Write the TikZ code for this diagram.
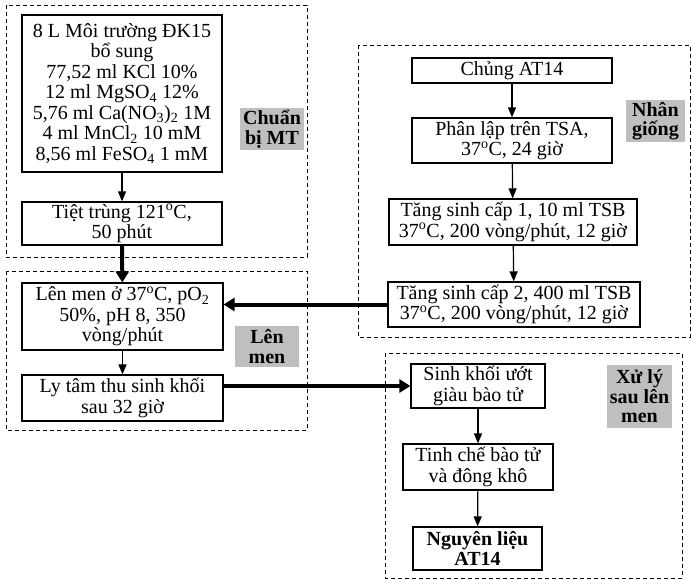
\documentclass[tikz,border=0pt]{standalone}
\usepackage{fontspec}
\setmainfont{Liberation Serif}
\usetikzlibrary{arrows.meta}
\begin{document}
\begin{tikzpicture}[x=1pt,y=-1pt,
    box/.style={draw,line width=1.2pt,align=center,inner xsep=2pt,inner ysep=1pt,font=\fontsize{20}{20.5}\selectfont},
    tag/.style={fill=black!25,align=center,inner sep=2pt,font=\fontsize{20}{19.5}\selectfont\bfseries},
    group/.style={dash pattern=on 4pt off 3pt,line width=0.9pt},
    arr/.style={line width=1.2pt,-{Triangle[length=10pt,width=8pt]}},
    bigarr/.style={line width=4pt,-{Triangle[length=11pt,width=13pt]}}]
    \useasboundingbox (0,0) rectangle (694,579);
    \draw[group] (6,5) rectangle (307,257);
    \draw[group] (358,45) rectangle (690,337);
    \draw[group] (6,271) rectangle (307,430);
    \draw[group] (385,353) rectangle (682,578);
    \node[box,minimum width=200pt,minimum height=157pt] (b1) at (122,93.5)
        {8 L Môi trường ĐK15\\bổ sung\\77,52 ml KCl 10\%\\12 ml MgSO\textsubscript{4} 12\%\\5,76 ml Ca(NO\textsubscript{3})\textsubscript{2} 1M\\4 ml MnCl\textsubscript{2} 10 mM\\8,56 ml FeSO\textsubscript{4} 1 mM};
    \node[box,minimum width=200pt,minimum height=43pt] (b2) at (122,223.5) {Tiệt trùng 121\textsuperscript{o}C,\\50 phút};
    \node[tag,minimum width=64pt,minimum height=38pt] (tMT) at (272,129) {Chuẩn\\bị MT};
    \node[box,minimum width=200pt,minimum height=25pt] (c1) at (512,70.5) {Chủng AT14};
    \node[box,minimum width=200pt,minimum height=45pt] (c2) at (512,140.5) {Phân lập trên TSA,\\37\textsuperscript{o}C, 24 giờ};
    \node[box,minimum width=248pt,minimum height=46pt] (c3) at (513,222) {Tăng sinh cấp 1, 10 ml TSB\\37\textsuperscript{o}C, 200 vòng/phút, 12 giờ};
    \node[box,minimum width=252pt,minimum height=45pt] (c4) at (514,304.5) {Tăng sinh cấp 2, 400 ml TSB\\37\textsuperscript{o}C, 200 vòng/phút, 12 giờ};
    \node[tag,minimum width=59pt,minimum height=38pt] (tNG) at (655.5,121) {Nhân\\giống};
    \node[box,minimum width=201pt,minimum height=67pt] (d1) at (122.5,316.5) {Lên men ở 37\textsuperscript{o}C, pO\textsubscript{2}\\50\%, pH 8, 350\\vòng/phút};
    \node[box,minimum width=201pt,minimum height=46pt] (d2) at (122.5,398) {Ly tâm thu sinh khối\\sau 32 giờ};
    \node[tag,minimum width=64pt,minimum height=41pt] (tLM) at (267,346.5) {Lên\\men};
    \node[box,minimum width=134pt,minimum height=44pt] (e1) at (478,386) {Sinh khối ướt\\giàu bào tử};
    \node[box,minimum width=150pt,minimum height=46pt] (e2) at (478,467) {Tinh chế bào tử\\và đông khô};
    \node[box,minimum width=129pt,minimum height=43pt,font=\fontsize{20}{20.5}\selectfont\bfseries] (e3) at (477.5,548.5) {Nguyên liệu\\AT14};
    \node[tag,minimum width=65pt,minimum height=63pt] (tXL) at (639.5,396.5) {Xử lý\\sau lên\\men};
    \draw[arr] (b1) -- (b2);
    \draw[arr] (c1) -- (c2);
    \draw[arr] (c2) -- (c3);
    \draw[arr] (c3) -- (c4);
    \draw[arr] (d1) -- (d2);
    \draw[arr] (e1) -- (e2);
    \draw[arr] (e2) -- (e3);
    \draw[bigarr] (b2) -- (d1);
    \draw[bigarr] (c4.west) -- (d1.east |- c4.west);
    \draw[bigarr] (d2.east |- e1.west) -- (e1.west);
\end{tikzpicture}
\end{document}
